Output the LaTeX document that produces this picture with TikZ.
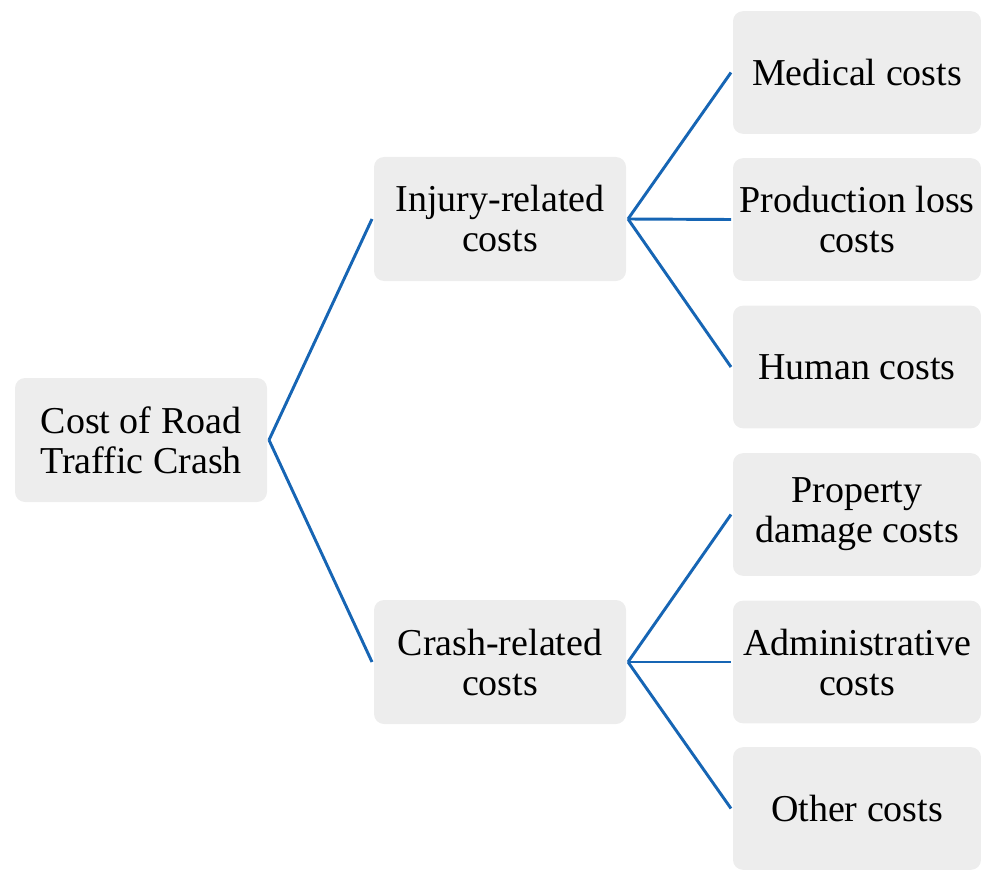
\documentclass[tikz,border=0pt]{standalone}
\usepackage{fontspec}
\setmainfont{Liberation Serif}
\definecolor{boxgray}{RGB}{237,237,237}
\definecolor{linkblue}{RGB}{22,101,180}

\begin{document}
\begin{tikzpicture}[x=0.75pt,y=-0.75pt,
  costbox/.style={fill=boxgray,rounded corners=7.5pt,align=center,
    minimum width=189pt,minimum height=93pt,outer sep=1.5pt,
    font=\fontsize{28.5}{30}\selectfont},
  leafbox/.style={costbox,minimum width=186pt,minimum height=92pt},
  link/.style={draw=linkblue,line width=2.2pt,line join=round}]
\useasboundingbox (0,0) rectangle (981,870);
\node[costbox] (root) at (141,440) {Cost of Road\\Traffic Crash};
\node[costbox] (injury) at (500,219) {Injury-related\\costs};
\node[costbox] (crash) at (500,662) {Crash-related\\costs};
\node[leafbox] (medical) at (857,72.5) {Medical costs};
\node[leafbox] (production) at (857,219.5) {Production loss\\costs};
\node[leafbox] (human) at (857,367) {Human costs};
\node[leafbox] (property) at (857,514.5) {Property\\damage costs};
\node[leafbox] (admin) at (857,662) {Administrative\\costs};
\node[leafbox] (other) at (857,808.5) {Other costs};
\draw[link] (root.east) -- (injury.west);
\draw[link] (root.east) -- (crash.west);
\foreach \leaf in {medical,production,human}
  \draw[link] (injury.east) -- (\leaf.west);
\foreach \leaf in {property,admin,other}
  \draw[link] (crash.east) -- (\leaf.west);
\end{tikzpicture}
\end{document}
